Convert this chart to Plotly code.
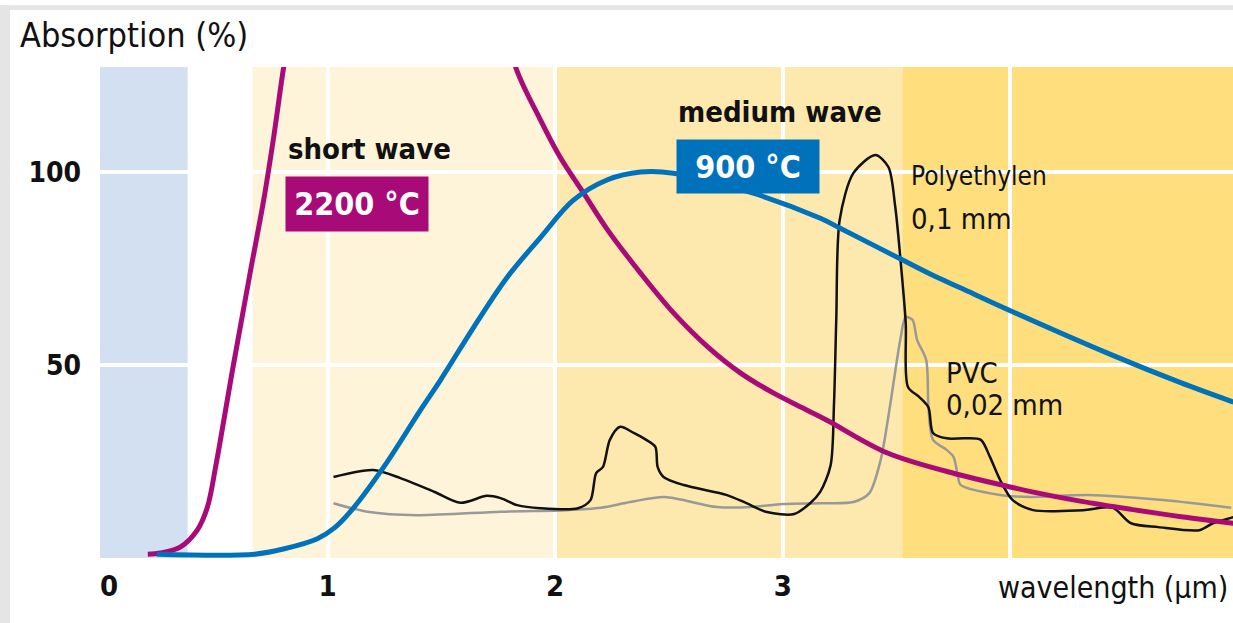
import plotly.graph_objects as go

# ---------------- data ----------------
short_x = [0.21, 0.266, 0.354, 0.428, 0.472, 0.508, 0.545, 0.58, 0.62, 0.66, 0.72, 0.763, 0.807, 0.85,
           1.77, 1.826, 1.935, 2.02, 2.125, 2.23, 2.375, 2.52, 2.67, 2.815, 2.96, 3.107, 3.2, 3.46, 3.78,
           3.986, 4.09, 4.3, 4.53, 4.75, 4.98]
short_y = [1, 1.3, 2.9, 7.3, 13.2, 23.6, 36, 48, 61, 74, 93, 109, 127.2, 142,
           142, 127.2, 113.5, 104, 94.5, 85, 73.8, 63.5, 54.7, 47.9, 42.7, 38.3, 35.5, 27.2, 21.5,
           18.6, 17.2, 14.8, 12.6, 10.7, 9.0]

medium_x = [0.25, 0.68, 0.81, 0.955, 1.03, 1.1, 1.247, 1.41, 1.496, 1.643, 1.79, 1.935, 2.08, 2.23,
            2.375, 2.52, 2.87, 3.165, 3.25, 3.516, 3.65, 3.78, 4.01, 4.45, 4.745, 4.98]
medium_y = [1, 1, 2.4, 5.0, 7.8, 12, 23.6, 38.5, 46.1, 59.9, 72.8, 83, 92.7, 98,
            100, 99.7, 94.5, 88, 85.5, 77.5, 73.5, 70, 63.8, 52.5, 45.5, 40.4]

pe_x = [1.026, 1.2, 1.32, 1.47, 1.584, 1.70, 1.76, 1.833, 1.935, 2.1, 2.155, 2.18, 2.21, 2.24, 2.285,
        2.345, 2.4, 2.44, 2.45, 2.476, 2.565, 2.755, 2.84, 2.93, 3.05, 3.12, 3.165, 3.21, 3.225, 3.235,
        3.25, 3.31, 3.407, 3.464, 3.494, 3.516, 3.54, 3.55, 3.6, 3.64, 3.66, 3.72, 3.8, 3.87, 3.91,
        3.955, 4.01, 4.1, 4.32, 4.45, 4.53, 4.65, 4.83, 4.89, 4.98]
pe_y = [21, 22.8, 20.7, 17.1, 14.3, 16.1, 15.5, 13.7, 12.9, 12.9, 15, 22, 23.6, 30.6, 34,
        32.4, 30.6, 28.8, 23.6, 21, 18.9, 16.3, 14.2, 11.9, 11.4, 14.2, 17.2, 24, 40, 62,
        87.6, 99.7, 104.4, 101.3, 91, 78, 61, 44.3, 41.7, 39, 32.4, 31, 31, 30.6, 26.2,
        20.2, 15, 12.4, 12.4, 13, 9, 8, 7.2, 9, 10.6]

pvc_x = [1.026, 1.175, 1.395, 1.76, 2.05, 2.2, 2.33, 2.48, 2.71, 2.86, 3.0, 3.165, 3.31, 3.38, 3.43,
         3.47, 3.516, 3.54, 3.57, 3.59, 3.63, 3.64, 3.66, 3.72, 3.75, 3.77, 3.78, 3.955, 4.09, 4.34,
         4.67, 4.97]
pvc_y = [14.2, 12, 11.1, 12, 12.4, 13, 14.5, 15.8, 13.2, 13.2, 14, 14.2, 14.5, 16.8, 25.4,
         39, 56.5, 62.4, 61.7, 56.5, 51.3, 39, 30.6, 28, 26.2, 21, 19, 16.3, 15.8, 16.3,
         15, 13]

# spectral bands (wavelength limits, colour)
band_x0 = [0.0, 0.67, 2.0, 3.525]
band_x1 = [0.385, 2.0, 3.525, 5.0]
band_colors = ["#d3e0f2", "#fef4d9", "#fde8ad", "#fede7d"]

x_tickvals = [0, 1, 2, 3, 4]
x_ticktext = ["\u00a0\u00a00", "1", "2", "3", ""]
y_tickvals = [50, 100]
y_ticktext = ["50", "100"]

MAGENTA = "#a80a78"
BLUE = "#0072bb"
FONT = "DejaVu Sans Condensed, DejaVu Sans, sans-serif"

fig = go.Figure()

fig.add_trace(go.Scatter(x=pvc_x, y=pvc_y, mode="lines",
                         line=dict(color="#999999", width=2.5, shape="spline", smoothing=0.8)))
fig.add_trace(go.Scatter(x=pe_x, y=pe_y, mode="lines",
                         line=dict(color="#111111", width=2.5, shape="spline", smoothing=0.8)))
fig.add_trace(go.Scatter(x=short_x, y=short_y, mode="lines",
                         line=dict(color=MAGENTA, width=5, shape="spline", smoothing=1.0)))
fig.add_trace(go.Scatter(x=medium_x, y=medium_y, mode="lines",
                         line=dict(color=BLUE, width=5, shape="spline", smoothing=1.0)))

shapes = []
for x0, x1, c in zip(band_x0, band_x1, band_colors):
    shapes.append(dict(type="rect", xref="x", yref="paper", x0=x0, x1=x1, y0=0, y1=1,
                       fillcolor=c, line=dict(width=0), layer="below"))
# light grey frame (left and top)
shapes.append(dict(type="rect", xref="paper", yref="paper", x0=-0.0883, x1=-0.0794, y0=-0.2, y1=1.126,
                   fillcolor="#e5e5e5", line=dict(width=0), layer="below"))
shapes.append(dict(type="rect", xref="paper", yref="paper", x0=-0.0883, x1=1.01, y0=1.116, y1=1.126,
                   fillcolor="#e5e5e5", line=dict(width=0), layer="below"))

annotations = [
    dict(text="Absorption (%)", xref="paper", yref="paper", x=-0.0724, y=1.065, xanchor="left",
         yanchor="middle", showarrow=False, font=dict(family=FONT, size=34, color="#111111")),
    dict(text="wavelength (µm)", xref="paper", yref="paper", x=0.9974, y=-0.061, xanchor="right",
         yanchor="middle", showarrow=False, font=dict(family=FONT, size=30, color="#111111")),
    dict(text="short wave", x=0.815, y=106, xanchor="left", yanchor="middle", showarrow=False,
         font=dict(family=FONT, size=29, color="#111111", weight="bold")),
    dict(text="2200 °C", x=1.128, y=91.7, xanchor="center", yanchor="middle", showarrow=False,
         bgcolor=MAGENTA, width=138, height=50, borderpad=2,
         font=dict(family=FONT, size=32, color="white", weight="bold")),
    dict(text="medium wave", x=2.53, y=115.5, xanchor="left", yanchor="middle", showarrow=False,
         font=dict(family=FONT, size=29, color="#111111", weight="bold")),
    dict(text="900 °C", x=2.849, y=101.4, xanchor="center", yanchor="middle", showarrow=False,
         bgcolor=BLUE, width=138, height=49, borderpad=2,
         font=dict(family=FONT, size=32, color="white", weight="bold")),
    dict(text="Polyethylen", x=3.555, y=99, xanchor="left", yanchor="middle", showarrow=False,
         font=dict(family=FONT, size=26, color="#111111")),
    dict(text="0,1 mm", x=3.555, y=87.8, xanchor="left", yanchor="middle", showarrow=False,
         font=dict(family=FONT, size=29, color="#111111")),
    dict(text="PVC", x=3.708, y=47.9, xanchor="left", yanchor="middle", showarrow=False,
         font=dict(family=FONT, size=29, color="#111111")),
    dict(text="0,02 mm", x=3.708, y=39.6, xanchor="left", yanchor="middle", showarrow=False,
         font=dict(family=FONT, size=29, color="#111111")),
]

fig.update_layout(
    width=1233, height=623,
    margin=dict(l=100, r=0, t=67, b=65),
    paper_bgcolor="white", plot_bgcolor="white",
    showlegend=False,
    shapes=shapes, annotations=annotations,
    xaxis=dict(range=[0, 4.978], tickvals=x_tickvals, ticktext=x_ticktext,
               showgrid=True, gridcolor="white", gridwidth=4, zeroline=False, showline=False,
               ticks="", ticklabelstandoff=8,
               tickfont=dict(family=FONT, size=29, color="#111111", weight="bold"), fixedrange=True),
    yaxis=dict(range=[0, 127.2], tickvals=y_tickvals, ticktext=y_ticktext,
               showgrid=True, gridcolor="white", gridwidth=4, zeroline=False, showline=False,
               ticks="", ticklabelstandoff=18,
               tickfont=dict(family=FONT, size=28, color="#111111", weight="bold"), fixedrange=True),
)

fig.write_html("out.html", config={"displayModeBar": False},
               post_script="document.body.style.margin='0px';")
